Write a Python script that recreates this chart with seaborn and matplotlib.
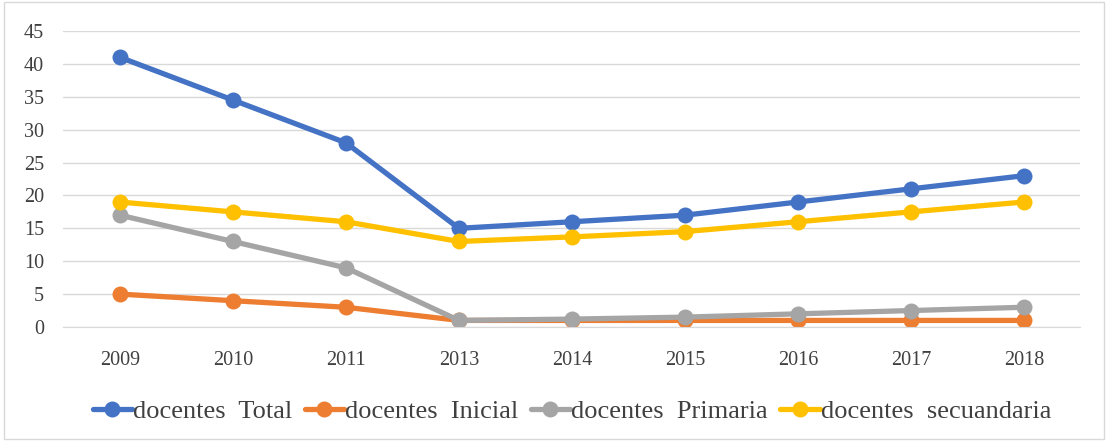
import pandas as pd
import seaborn as sns
import matplotlib.pyplot as plt

# --- Data ---
years = ["2009", "2010", "2011", "2013", "2014", "2015", "2016", "2017", "2018"]
total = [41, 34.5, 28, 15, 16, 17, 19, 21, 23]
inicial = [5, 4, 3, 1, 1, 1, 1, 1, 1]
primaria = [17, 13, 9, 1, 1.2, 1.5, 2, 2.5, 3]
secundaria = [19, 17.5, 16, 13, 13.7, 14.5, 16, 17.5, 19]

series_names = ["docentes  Total", "docentes  Inicial", "docentes  Primaria", "docentes  secuandaria"]
colors = ["#4472C4", "#ED7D31", "#A5A5A5", "#FFC000"]

rows = []
for name, vals in zip(series_names, [total, inicial, primaria, secundaria]):
    for y, v in zip(years, vals):
        rows.append({"year": y, "value": v, "serie": name})
df = pd.DataFrame(rows)

sns.set_style("white")
plt.rcParams["font.family"] = ["Liberation Serif", "DejaVu Serif"]

fig = plt.figure(figsize=(11.08, 4.41), dpi=100)
ax = fig.add_axes([0.0573, 0.2585, 0.9177, 0.6712])

sns.lineplot(data=df, x="year", y="value", hue="serie", palette=colors,
             marker="o", markersize=11.5, markeredgewidth=0, linewidth=3.8,
             sort=False, ax=ax)

ax.set_xlim(-0.5, len(years) - 0.5)
ax.set_ylim(0, 45)
ax.set_yticks(range(0, 50, 5))
ax.yaxis.grid(True, color="#D9D9D9", linewidth=1)
ax.set_axisbelow(True)
for s in ["top", "right", "left"]:
    ax.spines[s].set_visible(False)
ax.spines["bottom"].set_color("#D9D9D9")
ax.tick_params(axis="both", length=0, labelsize=14.5, colors="#404040")
ax.tick_params(axis="x", pad=17)
ax.tick_params(axis="y", pad=14)
ax.set_xlabel("")
ax.set_ylabel("")

ax.legend(loc="center", bbox_to_anchor=(0.5, -0.285), ncol=4, frameon=False,
          fontsize=19, handlelength=1.5, handletextpad=0.05, columnspacing=0.45,
          labelcolor="#404040")

# thin frame around the chart like the Excel chart area
fig.patches.append(plt.Rectangle((0.004, 0.005), 0.992, 0.99, transform=fig.transFigure,
                                 fill=False, edgecolor="#D9D9D9", linewidth=1))

plt.savefig("out.png", dpi=100)
